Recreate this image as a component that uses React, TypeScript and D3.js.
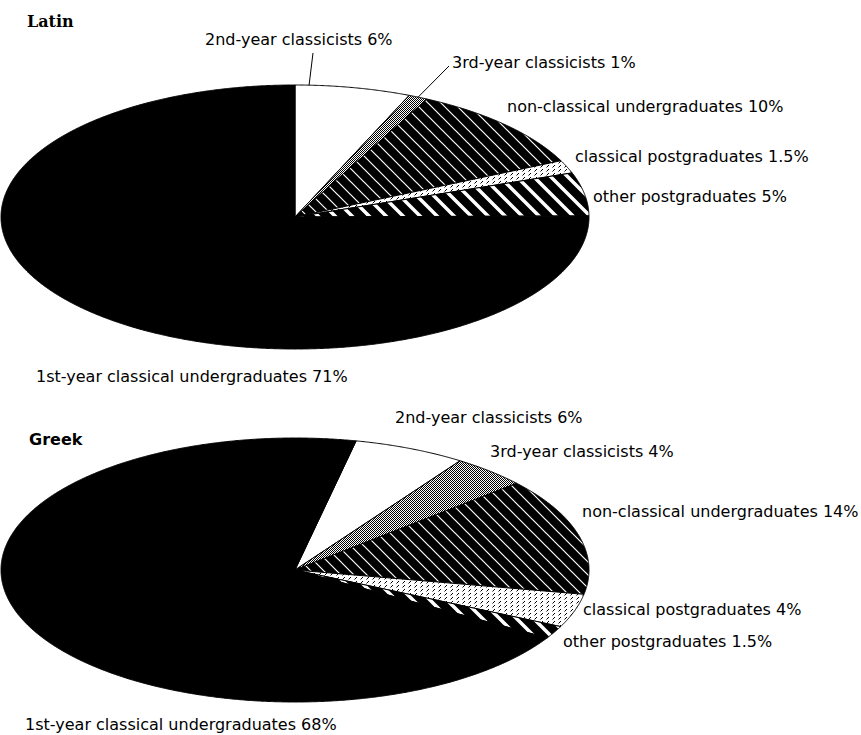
import React from 'react';
import * as d3 from 'd3';

// Student groups, in the order the slices run clockwise
const categories = [
  '2nd-year classicists',
  '3rd-year classicists',
  'non-classical undergraduates',
  'classical postgraduates',
  'other postgraduates',
  '1st-year classical undergraduates',
];

// Share of each group (%), per language
const latinValues = [6, 1, 10, 1.5, 5, 71];
const greekValues = [6, 4, 14, 4, 1.5, 68];

// Fill for each group
const fills = ['#ffffff', 'url(#pDots)', 'url(#pThin)', 'url(#pDash)', 'url(#pWide)', '#000000'];

type LabelPos = { x: number; y: number; leader?: { x: number; y: number; frac: number } };

// Label placement for the two pies
const latinLabelPos: LabelPos[] = [
  { x: 205, y: 45, leader: { x: 313, y: 53, frac: 0.12 } },
  { x: 452, y: 68, leader: { x: 449, y: 66, frac: 0.5 } },
  { x: 507, y: 112 },
  { x: 575, y: 162 },
  { x: 593, y: 202 },
  { x: 36, y: 382 },
];
const greekLabelPos: LabelPos[] = [
  { x: 395, y: 423 },
  { x: 490, y: 457 },
  { x: 582, y: 517 },
  { x: 583, y: 615 },
  { x: 563, y: 647 },
  { x: 25, y: 730 },
];

type PieSpec = {
  title: string;
  titleFont: string;
  titleX: number;
  titleY: number;
  values: number[];
  labels: LabelPos[];
  cx: number;
  cy: number;
  rx: number;
  ry: number;
  start: number;
};

const pies: PieSpec[] = [
  {
    title: 'Latin',
    titleFont: '"DejaVu Serif"',
    titleX: 27,
    titleY: 27,
    values: latinValues,
    labels: latinLabelPos,
    cx: 295,
    cy: 217,
    rx: 294,
    ry: 132,
    start: 0,
  },
  {
    title: 'Greek',
    titleFont: '"DejaVu Sans"',
    titleX: 29,
    titleY: 445,
    values: greekValues,
    labels: greekLabelPos,
    cx: 295,
    cy: 570,
    rx: 294,
    ry: 132,
    start: (12 * Math.PI) / 180,
  },
];

const line = d3.line<[number, number]>();

function ellPoint(p: PieSpec, a: number): [number, number] {
  return [p.cx + p.rx * Math.sin(a), p.cy - p.ry * Math.cos(a)];
}

function slicePath(p: PieSpec, a0: number, a1: number): string {
  const n = Math.max(2, Math.ceil((a1 - a0) / 0.004));
  const pts: [number, number][] = [[p.cx, p.cy]];
  for (let i = 0; i <= n; i++) pts.push(ellPoint(p, a0 + ((a1 - a0) * i) / n));
  return (line(pts) as string) + 'Z';
}

function Pie({ spec }: { spec: PieSpec }) {
  const arcs = d3
    .pie<number>()
    .sort(null)
    .value((d) => d)
    .startAngle(spec.start)
    .endAngle(spec.start + 2 * Math.PI)(spec.values);
  return (
    <g>
      <text
        x={spec.titleX}
        y={spec.titleY}
        fontFamily={spec.titleFont}
        fontWeight="bold"
        fontSize={16}
        fill="#000"
      >
        {spec.title}
      </text>
      {arcs.map((a, i) => (
        <path
          key={categories[i]}
          d={slicePath(spec, a.startAngle, a.endAngle)}
          fill={fills[i]}
          stroke="#000"
          strokeWidth={1}
          strokeLinejoin="round"
        />
      ))}
      {arcs.map((a, i) => {
        const lp = spec.labels[i];
        const lead = lp.leader;
        let leaderEl = null;
        if (lead) {
          const ang = a.startAngle + (a.endAngle - a.startAngle) * lead.frac;
          const [ex, ey] = ellPoint(spec, ang);
          leaderEl = <line x1={lead.x} y1={lead.y} x2={ex} y2={ey} stroke="#000" strokeWidth={1} />;
        }
        return (
          <g key={'l' + i}>
            {leaderEl}
            <text x={lp.x} y={lp.y} fontFamily='"DejaVu Sans"' fontSize={16} fill="#000">
              {`${categories[i]} ${spec.values[i]}%`}
            </text>
          </g>
        );
      })}
    </g>
  );
}

export default function App() {
  return (
    <div style={{ position: 'absolute', left: 0, top: 0 }}>
      <svg width={861} height={735} style={{ display: 'block', background: '#fff' }}>
        <defs>
          <pattern id="pDots" width={4} height={4} patternUnits="userSpaceOnUse">
            <rect width={4} height={4} fill="#fff" />
            <g fill="#000" shapeRendering="crispEdges">
              <rect x={0} y={0} width={1} height={1} />
              <rect x={2} y={0} width={1} height={1} />
              <rect x={1} y={1} width={1} height={1} />
              <rect x={3} y={1} width={1} height={1} />
              <rect x={0} y={2} width={1} height={1} />
              <rect x={2} y={2} width={1} height={1} />
              <rect x={1} y={3} width={1} height={1} />
              <rect x={3} y={3} width={1} height={1} />
            </g>
          </pattern>
          <pattern id="pThin" width={13} height={13} patternUnits="userSpaceOnUse">
            <rect width={13} height={13} fill="#000" />
            <path d="M-1,-1L14,14M12,-1L14,1M-1,12L1,14" stroke="#fff" strokeWidth={1.2} />
          </pattern>
          <pattern id="pWide" width={17} height={17} patternUnits="userSpaceOnUse">
            <rect width={17} height={17} fill="#000" />
            <path d="M-2,-2L19,19M15,-2L19,2M-2,15L2,19" stroke="#fff" strokeWidth={3.5} />
          </pattern>
          <pattern id="pDash" width={6} height={4} patternUnits="userSpaceOnUse">
            <rect width={6} height={4} fill="#fff" />
            <path d="M0.5,3.5L3,1" stroke="#000" strokeWidth={1} />
          </pattern>
        </defs>
        {pies.map((p) => (
          <Pie key={p.title} spec={p} />
        ))}
      </svg>
    </div>
  );
}
